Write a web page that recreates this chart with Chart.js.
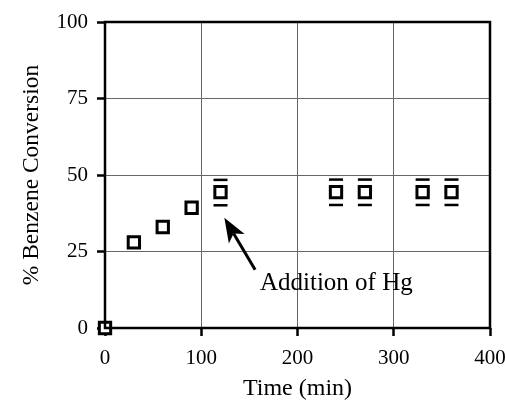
<!DOCTYPE html>
<html>
<head>
<meta charset="utf-8">
<script src="https://cdn.jsdelivr.net/npm/chart.js@4"></script>
<style>
  html, body { margin: 0; padding: 0; background: #fff; }
  #wrap { width: 505px; height: 407px; }
</style>
</head>
<body>
<div id="wrap"><canvas id="chart" width="505" height="407"></canvas></div>
<script>
// Benzene conversion vs time
const times = [0, 30, 60, 90, 120, 240, 270, 330, 360];
const conversion = [0, 28, 33, 39.3, 44.4, 44.4, 44.4, 44.4, 44.4];
const errHigh = [null, null, null, null, 48.4, 48.5, 48.5, 48.5, 48.5];
const errLow = [null, null, null, null, 40.1, 40.2, 40.2, 40.2, 40.2];
const xTicks = [0, 100, 200, 300, 400];
const yTicks = [0, 25, 50, 75, 100];

const arrowFrom = { x: 156, y: 19 };
const arrowTo = { x: 124, y: 36 };
const noteText = 'Addition of Hg';
const notePos = { x: 161, y: 14.5 };

const serif = '"Liberation Serif", "DejaVu Serif", serif';

// frame + error caps + arrow note
const extras = {
    id: 'extras',
    afterDatasetsDraw(chart) {
        const ctx = chart.ctx;
        const xs = chart.scales.x, ys = chart.scales.y;
        const a = chart.chartArea;
        ctx.save();

        // box
        ctx.strokeStyle = '#000';
        ctx.lineWidth = 2.5;
        ctx.strokeRect(a.left, a.top, a.right - a.left, a.bottom - a.top);

        // error caps
        ctx.lineWidth = 2.5;
        times.forEach((t, i) => {
            if (errHigh[i] == null) return;
            const px = xs.getPixelForValue(t);
            [errHigh[i], errLow[i]].forEach(v => {
                const py = ys.getPixelForValue(v);
                ctx.beginPath();
                ctx.moveTo(px - 7, py);
                ctx.lineTo(px + 7, py);
                ctx.stroke();
            });
        });

        // arrow
        const x1 = xs.getPixelForValue(arrowFrom.x), y1 = ys.getPixelForValue(arrowFrom.y);
        const x2 = xs.getPixelForValue(arrowTo.x), y2 = ys.getPixelForValue(arrowTo.y);
        const ang = Math.atan2(y2 - y1, x2 - x1);
        const head = 26, spread = 0.36;
        ctx.lineWidth = 3;
        ctx.beginPath();
        ctx.moveTo(x1, y1);
        ctx.lineTo(x2 - Math.cos(ang) * head * 0.7, y2 - Math.sin(ang) * head * 0.7);
        ctx.stroke();
        ctx.fillStyle = '#000';
        ctx.beginPath();
        ctx.moveTo(x2, y2);
        ctx.lineTo(x2 - head * Math.cos(ang - spread), y2 - head * Math.sin(ang - spread));
        ctx.lineTo(x2 - head * 0.7 * Math.cos(ang), y2 - head * 0.7 * Math.sin(ang));
        ctx.lineTo(x2 - head * Math.cos(ang + spread), y2 - head * Math.sin(ang + spread));
        ctx.closePath();
        ctx.fill();

        // note text
        ctx.font = '25px ' + serif;
        ctx.textAlign = 'left';
        ctx.textBaseline = 'middle';
        ctx.fillText(noteText, xs.getPixelForValue(notePos.x), ys.getPixelForValue(notePos.y));

        ctx.restore();
    }
};

new Chart(document.getElementById('chart'), {
    type: 'scatter',
    data: {
        datasets: [{
            label: 'conversion',
            data: times.map((t, i) => ({ x: t, y: conversion[i] })),
            pointStyle: 'rect',
            pointRadius: 8,
            pointBorderWidth: 3,
            pointBorderColor: '#000',
            pointBackgroundColor: '#fff',
            clip: false
        }]
    },
    options: {
        responsive: false,
        animation: false,
        events: [],
        layout: { padding: { top: 22, right: 15, left: 0, bottom: 0 } },
        plugins: { legend: { display: false }, tooltip: { enabled: false } },
        scales: {
            x: {
                type: 'linear',
                min: 0, max: 400,
                afterBuildTicks: s => { s.ticks = xTicks.map(v => ({ value: v })); },
                afterFit: s => { s.height = 79; s.paddingLeft = 0; s.paddingRight = 0; },
                grid: { color: '#666', lineWidth: 1, drawTicks: true, tickLength: 8, tickColor: '#000', tickWidth: 2.5 },
                border: { display: false },
                ticks: { color: '#000', font: { family: serif, size: 21 }, padding: 10, maxRotation: 0 },
                title: { display: true, text: 'Time (min)', color: '#000', font: { family: serif, size: 24 }, padding: { top: 4 } }
            },
            y: {
                type: 'linear',
                min: 0, max: 100,
                afterBuildTicks: s => { s.ticks = yTicks.map(v => ({ value: v })); },
                afterFit: s => { s.width = 105; },
                grid: { color: '#666', lineWidth: 1, drawTicks: true, tickLength: 8, tickColor: '#000', tickWidth: 2.5 },
                border: { display: false },
                ticks: { color: '#000', font: { family: serif, size: 21 }, padding: 9 },
                title: { display: true, text: '% Benzene Conversion', color: '#000', font: { family: serif, size: 23.5 }, padding: { bottom: 0, top: 18 } }
            }
        }
    },
    plugins: [extras]
});
</script>
</body>
</html>
